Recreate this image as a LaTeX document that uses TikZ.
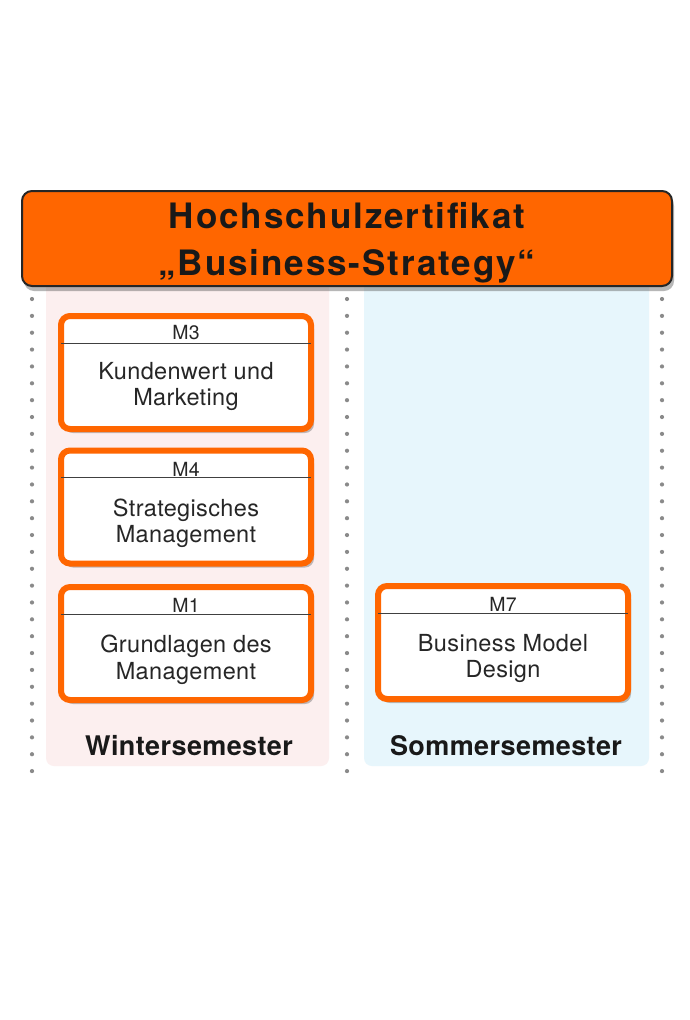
\documentclass[tikz,border=0pt]{standalone}
\usepackage{fontspec}
\setmainfont{TeX Gyre Heros}
\newfontfamily\ttlfont[LetterSpace=5.5]{TeX Gyre Heros}
\newfontfamily\semfont[LetterSpace=1.5]{TeX Gyre Heros}
\newfontfamily\bodyfont[LetterSpace=1.5]{TeX Gyre Heros}
\usetikzlibrary{shadows,calc}
\definecolor{orng}{HTML}{FF6600}
\definecolor{winterbg}{HTML}{FCEFEF}
\definecolor{summerbg}{HTML}{E7F6FC}
\definecolor{dotgray}{HTML}{8A8A8A}
\tikzset{
  module/.style={draw=orng, line width=6pt, fill=white, rounded corners=9pt,
    minimum width=250pt, minimum height=113pt, outer sep=0pt, inner sep=0pt,
    drop shadow={shadow xshift=3pt, shadow yshift=-4pt, opacity=.35, fill=black!70}},
  modlabel/.style={font=\bodyfont\fontsize{19.5}{20}\selectfont, text=black!85, inner sep=0pt},
  modtext/.style={font=\bodyfont\fontsize{23.5}{26.5}\selectfont, text=black!85, align=center, inner sep=0pt},
  headline/.style={draw=black!75, line width=0.9pt},
  titlebox/.style={draw=black!85, line width=2pt, fill=orng, rounded corners=10pt,
    minimum width=650pt, minimum height=95pt, outer sep=0pt,
    drop shadow={shadow xshift=2pt, shadow yshift=-5pt, opacity=.4, fill=black!70}},
  titletext/.style={font=\ttlfont\bfseries\fontsize{35}{47}\selectfont, align=center, inner sep=0pt, text=black!90},
  semlabel/.style={font=\semfont\bfseries\fontsize{27}{28}\selectfont, inner sep=0pt, text=black!90},
  dot/.style={fill=dotgray, circle, inner sep=0pt, minimum size=4.2pt}
}
\begin{document}
\begin{tikzpicture}[x=1pt,y=-1pt]
\useasboundingbox (0,0) rectangle (690,1020);
\fill[white] (0,0) rectangle (690,1020);
% column backgrounds
\fill[winterbg, rounded corners=8pt] (46,250) rectangle (329,766);
\fill[summerbg, rounded corners=8pt] (364,250) rectangle (649,766);
% dotted separators
\foreach \xx in {32,347,662}{
  \foreach \i in {0,...,28}{
    \node[dot] at (\xx,{299+\i*16.86}) {};
  }
}
% title
\node[titlebox] (title) at (347,238.5) {};
\node[titletext] (titletxt) at (347,243) {Hochschulzertifikat\\„Business-Strategy“};
% modules
\node[module] (m3) at (186,372.5) {};
\node[modlabel] (m3l) at (186,333) {M3};
\node[modtext] (m3t) at (186,386.5) {Kundenwert und\\Marketing};
\draw[headline] ($(m3.north west)+(0,27)$) -- ($(m3.north east)+(0,27)$);

\node[module] (m4) at (186,507) {};
\node[modlabel] (m4l) at (186,469) {M4};
\node[modtext] (m4t) at (186,523.5) {Strategisches\\Management};
\draw[headline] ($(m4.north west)+(0,27)$) -- ($(m4.north east)+(0,27)$);

\node[module] (m1) at (186,643.5) {};
\node[modlabel] (m1l) at (186,605) {M1};
\node[modtext] (m1t) at (186,660) {Grundlagen des\\Management};
\draw[headline] ($(m1.north west)+(0,27)$) -- ($(m1.north east)+(0,27)$);

\node[module] (m7) at (503,642.5) {};
\node[modlabel] (m7l) at (503,604) {M7};
\node[modtext] (m7t) at (503,658.5) {Business Model\\Design};
\draw[headline] ($(m7.north west)+(0,27)$) -- ($(m7.north east)+(0,27)$);
% semester labels
\node[semlabel] (ws) at (189,746) {Wintersemester};
\node[semlabel] (ss) at (506,746) {Sommersemester};
\end{tikzpicture}
\end{document}
